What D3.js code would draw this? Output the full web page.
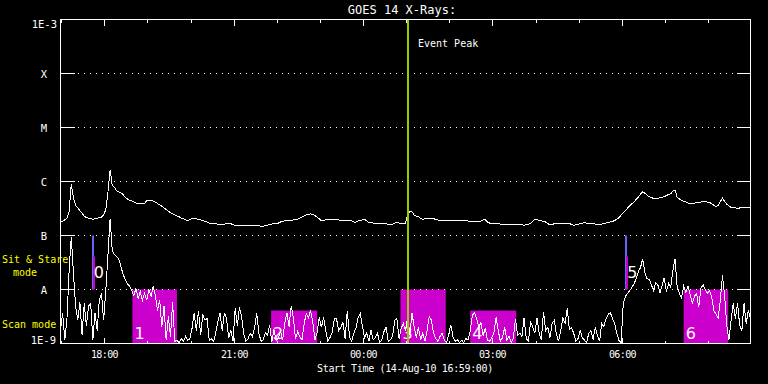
<!DOCTYPE html>
<html><head><meta charset="utf-8">
<script src="https://cdn.jsdelivr.net/npm/d3@7"></script>
<style>
html,body{margin:0;padding:0;background:#000;}
svg{display:block;}
text{font-family:"DejaVu Sans Mono",monospace;fill:#fff;}
text.num{font-family:"DejaVu Sans",sans-serif;}
</style></head><body>
<svg id="c" width="768" height="384"></svg>
<script>
// ---------------- data ----------------
const title = "GOES 14 X-Rays:";
const xLabel = "Start Time (14-Aug-10 16:59:00)";
const startTime = "2010-08-14T16:59:00Z";
const endTime = "2010-08-15T08:59:00Z";
const stepMinutes = 3;

// log10 flux (W/m^2), long channel (1-8 A), one value every 3 minutes
const longLog = [
-6.75,-6.74,-6.71,-6.68,-6.56,-6.04,-6.31,-6.44,-6.49,-6.54,
-6.59,-6.64,-6.67,-6.68,-6.69,-6.70,-6.69,-6.68,-6.67,-6.66,
-6.62,-6.52,-6.20,-5.78,-6.07,-6.11,-6.17,-6.19,-6.21,-6.24,
-6.29,-6.32,-6.35,-6.36,-6.38,-6.40,-6.41,-6.41,-6.41,-6.41,
-6.35,-6.35,-6.36,-6.36,-6.38,-6.41,-6.43,-6.46,-6.49,-6.52,
-6.55,-6.58,-6.60,-6.62,-6.64,-6.65,-6.68,-6.69,-6.71,-6.73,
-6.70,-6.69,-6.69,-6.69,-6.70,-6.71,-6.72,-6.74,-6.75,-6.77,
-6.77,-6.78,-6.78,-6.79,-6.79,-6.80,-6.79,-6.78,-6.78,-6.78,
-6.80,-6.81,-6.82,-6.82,-6.81,-6.81,-6.81,-6.81,-6.81,-6.82,
-6.82,-6.82,-6.82,-6.83,-6.83,-6.82,-6.81,-6.80,-6.79,-6.78,
-6.78,-6.77,-6.75,-6.74,-6.73,-6.73,-6.72,-6.72,-6.71,-6.71,
-6.70,-6.68,-6.66,-6.64,-6.62,-6.61,-6.60,-6.61,-6.63,-6.66,
-6.69,-6.73,-6.72,-6.71,-6.71,-6.71,-6.71,-6.71,-6.71,-6.71,
-6.72,-6.72,-6.72,-6.72,-6.72,-6.73,-6.75,-6.75,-6.73,-6.72,
-6.71,-6.70,-6.73,-6.76,-6.76,-6.77,-6.78,-6.78,-6.78,-6.78,
-6.77,-6.78,-6.80,-6.80,-6.79,-6.77,-6.76,-6.77,-6.78,-6.78,
-6.77,-6.62,-6.56,-6.56,-6.62,-6.64,-6.65,-6.69,-6.70,-6.69,
-6.68,-6.69,-6.69,-6.69,-6.70,-6.71,-6.73,-6.73,-6.73,-6.73,
-6.72,-6.72,-6.73,-6.73,-6.73,-6.73,-6.73,-6.73,-6.73,-6.73,
-6.74,-6.74,-6.74,-6.74,-6.74,-6.73,-6.71,-6.71,-6.75,-6.77,
-6.77,-6.78,-6.78,-6.78,-6.79,-6.80,-6.80,-6.80,-6.80,-6.80,
-6.80,-6.80,-6.80,-6.80,-6.80,-6.81,-6.80,-6.79,-6.78,-6.74,
-6.70,-6.71,-6.72,-6.73,-6.74,-6.75,-6.78,-6.80,-6.80,-6.78,
-6.77,-6.77,-6.77,-6.77,-6.77,-6.77,-6.77,-6.80,-6.81,-6.80,
-6.79,-6.78,-6.77,-6.76,-6.77,-6.78,-6.78,-6.78,-6.79,-6.79,
-6.79,-6.79,-6.78,-6.77,-6.76,-6.75,-6.74,-6.72,-6.70,-6.67,
-6.62,-6.58,-6.54,-6.49,-6.45,-6.41,-6.38,-6.33,-6.29,-6.23,
-6.19,-6.22,-6.25,-6.28,-6.30,-6.31,-6.31,-6.31,-6.30,-6.29,
-6.28,-6.26,-6.24,-6.23,-6.18,-6.16,-6.29,-6.32,-6.35,-6.37,
-6.38,-6.40,-6.41,-6.41,-6.40,-6.39,-6.38,-6.38,-6.37,-6.37,
-6.38,-6.39,-6.41,-6.44,-6.46,-6.44,-6.37,-6.31,-6.37,-6.42,
-6.45,-6.48,-6.48,-6.49,-6.50,-6.49,-6.48,-6.48,-6.48,-6.48,-6.49
];

// log10 flux (W/m^2), short channel (0.5-4 A), one value every 3 minutes
const shortLog = [
-8.76,-8.44,-8.94,-8.54,-7.65,-7.02,-7.70,-8.30,-8.57,-8.24,
-8.85,-8.26,-8.67,-8.31,-8.26,-8.94,-8.43,-8.76,-8.20,-8.07,
-8.57,-8.02,-7.37,-6.69,-7.28,-7.35,-7.39,-7.43,-7.57,-7.72,
-7.81,-7.89,-7.94,-8.02,-8.11,-7.98,-8.17,-8.04,-8.20,-8.07,
-8.20,-8.00,-8.13,-7.94,-8.11,-8.39,-8.20,-8.69,-8.31,-8.94,
-8.50,-8.87,-8.24,-8.96,-8.94,-8.98,-8.91,-8.96,-8.87,-8.94,
-8.91,-8.72,-8.43,-8.76,-8.39,-8.85,-8.46,-8.57,-8.54,-8.94,
-8.91,-8.96,-8.80,-8.59,-8.44,-8.76,-8.43,-8.54,-8.89,-8.76,
-8.96,-8.35,-8.67,-8.33,-8.50,-8.83,-8.96,-8.91,-8.81,-8.87,
-8.72,-8.44,-8.81,-8.96,-8.93,-8.80,-8.85,-8.65,-8.98,-8.74,
-8.94,-8.91,-8.76,-8.94,-8.63,-8.43,-8.69,-8.30,-8.52,-8.91,
-8.78,-8.87,-8.94,-8.63,-8.44,-8.52,-8.39,-8.61,-8.93,-8.80,
-8.52,-8.70,-8.52,-8.76,-8.96,-8.89,-8.80,-8.54,-8.54,-8.76,
-8.70,-8.61,-8.91,-8.39,-8.87,-8.96,-8.81,-8.72,-8.52,-8.44,
-8.67,-8.89,-8.81,-8.96,-8.76,-8.93,-8.89,-8.81,-8.98,-8.94,
-8.78,-8.70,-8.96,-8.93,-8.87,-8.57,-8.54,-8.91,-8.72,-8.63,
-8.76,-8.52,-8.85,-8.43,-8.69,-8.89,-8.70,-8.93,-8.81,-8.96,
-8.76,-8.50,-8.57,-8.80,-8.91,-8.96,-8.87,-8.81,-8.94,-8.98,
-8.85,-8.65,-8.87,-8.96,-8.93,-8.98,-8.94,-8.98,-8.91,-8.93,
-8.78,-8.48,-8.43,-8.54,-8.70,-8.61,-8.85,-8.72,-8.94,-8.96,
-8.89,-8.81,-8.52,-8.76,-8.96,-8.89,-8.70,-8.94,-8.87,-8.98,
-8.91,-8.54,-8.85,-8.81,-8.87,-8.52,-8.91,-8.96,-8.61,-8.69,
-8.81,-8.52,-8.81,-8.93,-8.41,-8.76,-8.70,-8.89,-8.63,-8.57,
-8.83,-8.96,-8.76,-8.52,-8.63,-8.35,-8.74,-8.70,-8.81,-8.96,
-8.91,-8.76,-8.89,-8.94,-8.98,-8.81,-8.76,-8.93,-8.70,-8.85,
-8.96,-8.63,-8.69,-8.54,-8.46,-8.43,-8.54,-8.63,-8.81,-8.94,
-8.98,-8.26,-8.13,-8.07,-8.02,-7.96,-7.89,-7.80,-7.67,-7.59,
-7.43,-7.69,-7.80,-7.81,-7.91,-8.02,-7.87,-7.91,-8.06,-7.93,
-7.78,-8.04,-7.89,-7.96,-7.65,-7.43,-7.96,-8.07,-8.15,-7.94,
-8.06,-7.93,-8.09,-8.26,-8.13,-8.07,-8.33,-7.98,-7.91,-8.00,
-8.07,-8.02,-8.13,-8.39,-8.46,-8.52,-8.20,-7.74,-8.11,-8.67,
-8.94,-8.57,-8.26,-8.54,-8.26,-8.67,-8.76,-8.26,-8.63,-8.39,-8.54
];

const yTickValues = [-9, -8, -7, -6, -5, -4, -3];
const yTickLabels = ["1E-9", "A", "B", "C", "M", "X", "1E-3"];

// scan-mode rasters
const scanLabels = ["1", "2", "3", "4", "6"];
const scanStart = ["2010-08-14T18:39:00Z","2010-08-14T21:52:00Z","2010-08-15T00:52:00Z","2010-08-15T02:29:00Z","2010-08-15T07:26:00Z"];
const scanEnd   = ["2010-08-14T19:41:00Z","2010-08-14T22:56:00Z","2010-08-15T01:55:00Z","2010-08-15T03:33:00Z","2010-08-15T08:28:00Z"];
const scanTop   = [-8, -8.39, -8, -8.39, -8];

// sit & stare observations
const stareLabels = ["0", "5"];
const stareTime = ["2010-08-14T17:44:00Z", "2010-08-15T06:06:00Z"];
const stareTop = [-7, -7];
const stareLevel = [-7.39, -7.39];

const eventPeak = "2010-08-15T01:03:00Z";
const eventLabel = "Event Peak";
const modeLabels = ["Sit & Stare", "mode", "Scan mode"];

// ---------------- drawing ----------------
const svg = d3.select("#c");
svg.append("rect").attr("width", 768).attr("height", 384).attr("fill", "#000");

const X0 = 60.5, X1 = 750.5, Y0 = 19.5, Y1 = 343.5;
const t0 = new Date(startTime), t1 = new Date(endTime);
const x = d3.scaleUtc().domain([t0, t1]).range([X0, X1]);
const y = d3.scaleLinear().domain([-9, -3]).range([Y1, Y0]);
const tAt = i => new Date(t0.getTime() + i * stepMinutes * 60000);

svg.append("defs").append("clipPath").attr("id", "plot")
  .append("rect").attr("x", X0).attr("y", Y0).attr("width", X1 - X0).attr("height", Y1 - Y0);

// scan blocks
const g = svg.append("g");
scanLabels.forEach((lab, i) => {
  const xs = x(new Date(scanStart[i])), xe = x(new Date(scanEnd[i]));
  g.append("rect").attr("x", xs).attr("width", xe - xs)
    .attr("y", y(scanTop[i])).attr("height", y(-9) - y(scanTop[i]))
    .attr("fill", "#cc00cc");
});
// sit & stare bars
stareLabels.forEach((lab, i) => {
  const xt = Math.round(x(new Date(stareTime[i])));
  g.append("rect").attr("x", xt - 1).attr("width", 2)
    .attr("y", y(stareTop[i])).attr("height", y(-8) - y(stareTop[i])).attr("fill", "#6464ff");
  g.append("rect").attr("x", xt).attr("width", 2)
    .attr("y", y(stareLevel[i])).attr("height", y(-8) - y(stareLevel[i])).attr("fill", "#cc00cc");
});

// dotted grid + level ticks
yTickValues.slice(1, -1).forEach(v => {
  svg.append("line").attr("x1", 78).attr("x2", 736).attr("y1", y(v)).attr("y2", y(v))
    .attr("stroke", "#fff").attr("stroke-width", 1).attr("stroke-dasharray", "1 5")
    .attr("shape-rendering", "crispEdges");
  svg.append("line").attr("x1", X0).attr("x2", 75).attr("y1", y(v)).attr("y2", y(v))
    .attr("stroke", "#fff").attr("shape-rendering", "crispEdges");
  svg.append("line").attr("x1", 737).attr("x2", X1).attr("y1", y(v)).attr("y2", y(v))
    .attr("stroke", "#fff").attr("shape-rendering", "crispEdges");
});

// block labels
scanLabels.forEach((lab, i) => {
  svg.append("text").attr("class", "num").attr("x", x(new Date(scanStart[i])) + 2).attr("y", 339)
    .attr("font-size", 16).text(lab);
});
stareLabels.forEach((lab, i) => {
  svg.append("text").attr("class", "num").attr("x", x(new Date(stareTime[i])) + 1).attr("y", 278)
    .attr("font-size", 16).text(lab);
});

// curves
const line = d3.line().x((d, i) => x(tAt(i))).y(d => y(Math.max(d, -9.05)));
const curves = svg.append("g").attr("clip-path", "url(#plot)");
curves.append("path").datum(longLog).attr("d", line)
  .attr("fill", "none").attr("stroke", "#fff").attr("stroke-width", 1).attr("shape-rendering", "crispEdges");
curves.append("path").datum(shortLog).attr("d", line)
  .attr("fill", "none").attr("stroke", "#fff").attr("stroke-width", 1).attr("shape-rendering", "crispEdges");

// event peak
const xev = Math.round(x(new Date(eventPeak)));
svg.append("line").attr("x1", xev).attr("x2", xev).attr("y1", Y0).attr("y2", Y1)
  .attr("stroke", "#99cc00").attr("stroke-width", 2).attr("shape-rendering", "crispEdges");
svg.append("text").attr("x", xev + 10).attr("y", 47).attr("font-size", 10).text(eventLabel);

// frame
svg.append("rect").attr("x", X0).attr("y", Y0).attr("width", X1 - X0).attr("height", Y1 - Y0)
  .attr("fill", "none").attr("stroke", "#fff").attr("shape-rendering", "crispEdges");

// time ticks
const hours = x.ticks(d3.utcHour.every(1));
hours.forEach(h => {
  const major = h.getUTCHours() % 3 === 0;
  const len = major ? 6 : 3;
  const xx = Math.round(x(h)) + 0.5;
  svg.append("line").attr("x1", xx).attr("x2", xx).attr("y1", Y0).attr("y2", Y0 + len)
    .attr("stroke", "#fff").attr("shape-rendering", "crispEdges");
  svg.append("line").attr("x1", xx).attr("x2", xx).attr("y1", Y1).attr("y2", Y1 - len)
    .attr("stroke", "#fff").attr("shape-rendering", "crispEdges");
  if (major) {
    svg.append("text").attr("x", xx).attr("y", 358).attr("text-anchor", "middle")
      .attr("font-size", 10).attr("letter-spacing", -0.6).text(d3.utcFormat("%H:%M")(h));
  }
});

// y labels
yTickValues.forEach((v, i) => {
  const lab = yTickLabels[i];
  const t = svg.append("text").attr("font-size", 10.5).text(lab);
  if (i === 0) t.attr("x", 56).attr("y", y(v)).attr("text-anchor", "end");
  else if (i === yTickValues.length - 1) t.attr("x", 57).attr("y", y(v) + 8).attr("text-anchor", "end");
  else t.attr("x", 44).attr("y", y(v) + 4).attr("text-anchor", "middle");
});

// mode labels
svg.append("text").attr("x", 2).attr("y", 263).attr("font-size", 10).style("fill", "#ffff00").text(modeLabels[0]);
svg.append("text").attr("x", 13).attr("y", 276).attr("font-size", 10).style("fill", "#ffff00").text(modeLabels[1]);
svg.append("text").attr("x", 2).attr("y", 328).attr("font-size", 10).style("fill", "#ffff00").text(modeLabels[2]);

// titles
svg.append("text").attr("x", 402).attr("y", 14).attr("text-anchor", "middle").attr("font-size", 12).text(title);
svg.append("text").attr("x", 405).attr("y", 372).attr("text-anchor", "middle").attr("font-size", 10)
  .attr("letter-spacing", -0.35).text(xLabel);
</script>
</body></html>
